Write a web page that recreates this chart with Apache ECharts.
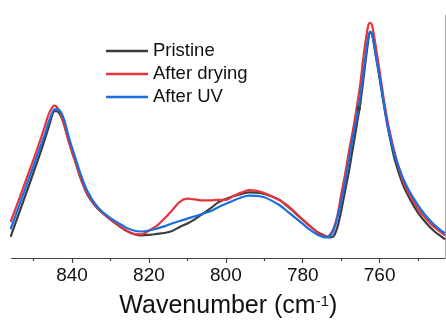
<!DOCTYPE html>
<html>
<head>
<meta charset="utf-8">
<script src="https://cdn.jsdelivr.net/npm/echarts@6/dist/echarts.min.js"></script>
<style>
  html, body { margin: 0; padding: 0; background: #fff; }
  #chart { width: 446px; height: 324px; }
</style>
</head>
<body>
<div id="chart"></div>
<script>
// FTIR spectra, 856–743 cm-1 region (normalised absorbance)
const wavenumbers = [
  856, 854, 852, 850, 848,   847, 846, 845, 844.5, 844,   843, 842, 841, 840, 839,
  838, 837, 836, 834, 832,   830, 828, 826, 824, 822,     820, 818, 816, 814, 812,
  810, 808, 806, 804, 802,   800, 798, 796, 794, 792,     790, 788, 786, 784, 782,
  780, 778, 776, 774, 773,   772, 771, 770, 769, 768,     767, 766, 765, 764, 763,
  762.5, 762, 761, 760, 759, 758, 757, 756, 754, 752,     750, 748, 746, 744, 743];

const pristine = [
  0.087, 0.175, 0.264, 0.353, 0.445,  0.493, 0.543, 0.595, 0.604, 0.604,  0.587, 0.547, 0.490, 0.437, 0.389,
  0.338, 0.296, 0.261, 0.215, 0.184,  0.158, 0.134, 0.113, 0.099, 0.093,  0.095, 0.099, 0.103, 0.111, 0.128,
  0.142, 0.160, 0.182, 0.204, 0.229,  0.243, 0.255, 0.263, 0.270, 0.269,  0.264, 0.253, 0.239, 0.213, 0.186,
  0.157, 0.130, 0.105, 0.089, 0.085,  0.089, 0.126, 0.194, 0.275, 0.356,  0.449, 0.543, 0.640, 0.765, 0.891,
  0.927, 0.923, 0.834, 0.737, 0.640,  0.547, 0.470, 0.401, 0.304, 0.239,  0.186, 0.146, 0.113, 0.089, 0.077];

const afterDrying = [
  0.148, 0.233, 0.320, 0.407, 0.498,  0.546, 0.595, 0.623, 0.627, 0.622,  0.596, 0.542, 0.486, 0.435, 0.389,
  0.340, 0.300, 0.265, 0.217, 0.184,  0.158, 0.136, 0.115, 0.099, 0.097,  0.113, 0.132, 0.162, 0.196, 0.231,
  0.244, 0.241, 0.237, 0.237, 0.239,  0.239, 0.255, 0.269, 0.279, 0.276,  0.267, 0.253, 0.237, 0.217, 0.188,
  0.158, 0.130, 0.103, 0.087, 0.095,  0.121, 0.174, 0.262, 0.344, 0.437,  0.522, 0.615, 0.721, 0.854, 0.955,
  0.968, 0.960, 0.870, 0.769, 0.662,  0.569, 0.494, 0.429, 0.320, 0.253,  0.202, 0.162, 0.130, 0.105, 0.093];

const afterUV = [
  0.118, 0.205, 0.293, 0.380, 0.469,  0.513, 0.563, 0.603, 0.612, 0.613,  0.603, 0.567, 0.506, 0.453, 0.405,
  0.356, 0.312, 0.275, 0.223, 0.188,  0.164, 0.144, 0.126, 0.113, 0.109,  0.113, 0.121, 0.130, 0.142, 0.152,
  0.162, 0.172, 0.182, 0.192, 0.209,  0.223, 0.237, 0.249, 0.257, 0.256,  0.250, 0.235, 0.217, 0.192, 0.166,
  0.140, 0.115, 0.095, 0.085, 0.089,  0.113, 0.166, 0.231, 0.312, 0.401,  0.494, 0.575, 0.668, 0.789, 0.907,
  0.932, 0.925, 0.834, 0.745, 0.648,  0.551, 0.482, 0.421, 0.332, 0.267,  0.217, 0.174, 0.140, 0.113, 0.102];

// stray marker on the pristine trace
const pristineMarker = [[765.5, 0.615]];

const majorTicks = [840, 820, 800, 780, 760];
const minorTicks = [850, 830, 810, 790, 770, 750];

const xMin = 743, xMax = 855.7;

function pairs(ys) { return wavenumbers.map((x, i) => [x, ys[i]]); }

const font = 'Liberation Sans, Arial, sans-serif';

const lineSeries = (name, ys, color) => ({
  name, type: 'line', data: pairs(ys), showSymbol: false, smooth: 0.3,
  lineStyle: { color, width: 2.2 }, itemStyle: { color }, z: 2
});

const chart = echarts.init(document.getElementById('chart'));
chart.setOption({
  animation: false,
  backgroundColor: '#fff',
  grid: { left: 11.7, right: 1, top: 15, bottom: 62 },
  legend: {
    data: ['Pristine', 'After drying', 'After UV'],
    orient: 'vertical', left: 106, top: 41, padding: 0,
    itemWidth: 42, itemHeight: 2.5, itemGap: 3, icon: 'rect',
    textStyle: { fontFamily: font, fontSize: 18.5, color: '#111', lineHeight: 20 }
  },
  xAxis: [
    {
      type: 'value', min: xMin, max: xMax, inverse: true, position: 'bottom',
      name: 'Wavenumber (cm{sup|-1})', nameLocation: 'middle', nameGap: 36,
      nameTextStyle: {
        fontFamily: font, fontSize: 25, color: '#111',
        rich: { sup: { fontFamily: font, fontSize: 15, color: '#111', verticalAlign: 'top', padding: [0, 0, 10, 0] } }
      },
      axisLine: { show: true, lineStyle: { color: '#444', width: 1.2 } },
      axisTick: { show: true, length: 5, customValues: majorTicks, lineStyle: { color: '#444', width: 1.2 } },
      axisLabel: { customValues: majorTicks, margin: 8, fontFamily: font, fontSize: 19, color: '#111' },
      splitLine: { show: false }
    },
    {
      type: 'value', min: xMin, max: xMax, inverse: true, position: 'bottom',
      axisLine: { show: false },
      axisTick: { show: true, length: 3, customValues: minorTicks, lineStyle: { color: '#444', width: 1.2 } },
      axisLabel: { show: false },
      splitLine: { show: false }
    }
  ],
  yAxis: {
    type: 'value', min: 0, max: 1, position: 'right',
    axisLine: { show: true, lineStyle: { color: '#a8a8a8', width: 1 } },
    axisTick: { show: false }, axisLabel: { show: false }, splitLine: { show: false }
  },
  series: [
    lineSeries('Pristine', pristine, '#3c3c3c'),
    lineSeries('After drying', afterDrying, '#e8343b'),
    lineSeries('After UV', afterUV, '#1a6ee0'),
    {
      type: 'scatter', data: pristineMarker, symbolSize: 5,
      itemStyle: { color: '#3c3c3c' }, z: 4, silent: true
    }
  ]
});
</script>
</body>
</html>
